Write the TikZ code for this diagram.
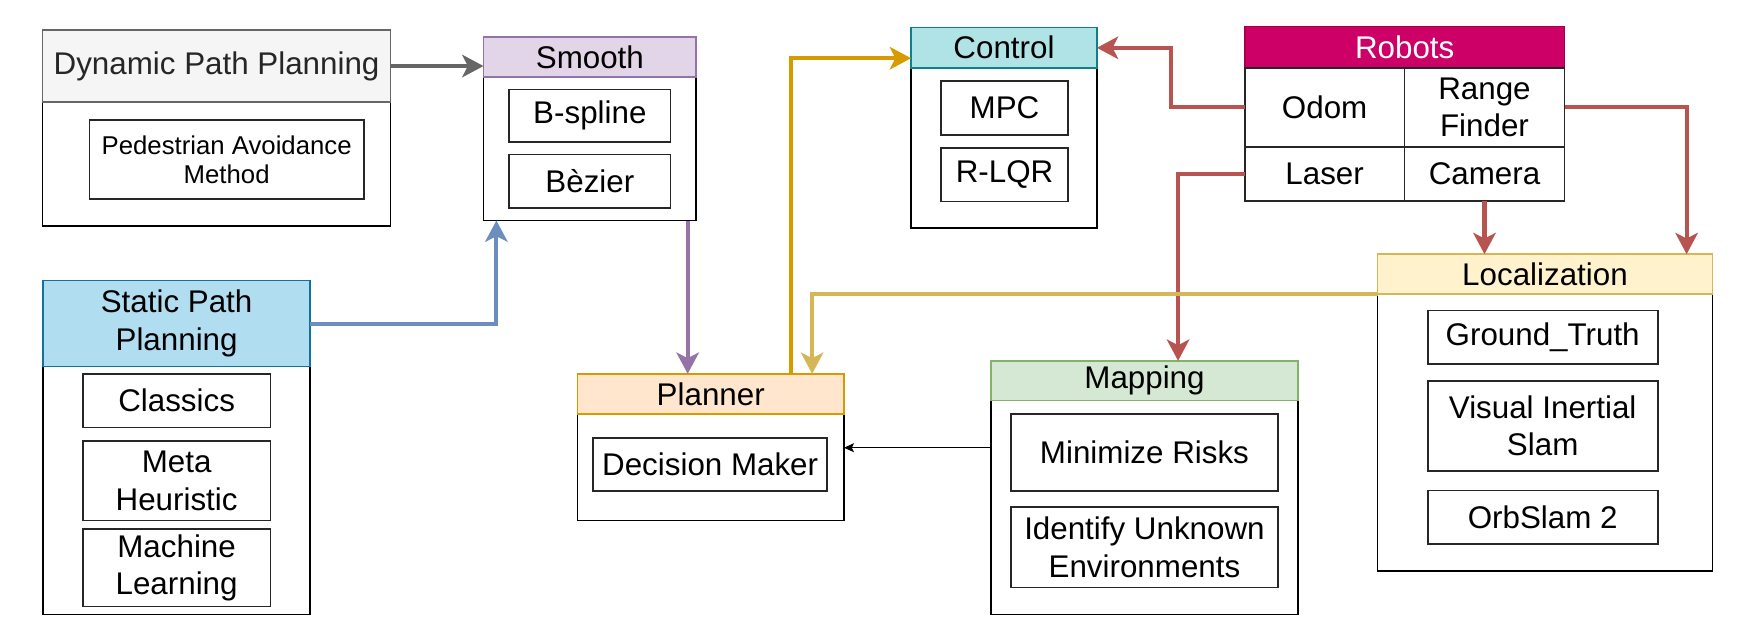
\documentclass[tikz,border=0pt]{standalone}
\usepackage{fontspec}
\setmainfont{Liberation Sans}
\usetikzlibrary{arrows.meta,calc}
\definecolor{dynfill}{HTML}{F5F5F5}\definecolor{dynstroke}{HTML}{666666}
\definecolor{smfill}{HTML}{E1D5E7}\definecolor{smstroke}{HTML}{9673A6}
\definecolor{stfill}{HTML}{B1DDF0}\definecolor{ststroke}{HTML}{10739E}
\definecolor{plfill}{HTML}{FFE6CC}\definecolor{plstroke}{HTML}{D79B00}
\definecolor{ctfill}{HTML}{B0E3E6}\definecolor{ctstroke}{HTML}{0E8088}
\definecolor{rbfill}{HTML}{CC0066}\definecolor{rbstroke}{HTML}{A50040}
\definecolor{locfill}{HTML}{FFF2CC}\definecolor{locstroke}{HTML}{D6B656}
\definecolor{mapfill}{HTML}{D5E8D4}\definecolor{mapstroke}{HTML}{82B366}
\definecolor{agray}{HTML}{666666}\definecolor{ablue}{HTML}{6C8EBF}
\definecolor{apurple}{HTML}{9673A6}\definecolor{aorange}{HTML}{D79B00}
\definecolor{ared}{HTML}{B85450}\definecolor{atan}{HTML}{D6B656}
\newcommand{\mkbox}[7]{\node[#1, minimum width={(#5-#3)*1pt}, minimum height={(#6-#4)*1pt}] (#2) at ({(#3+#5)/2},{(#4+#6)/2}) {#7};}
\tikzset{
  base/.style={inner sep=0pt, outer sep=0pt, align=center, line width=1.4pt},
  body/.style={base, draw=black, fill=white},
  hdr/.style={base, draw=#1},
  inbox/.style={base, draw=black!85, line width=1.6pt, fill=white},
  cell/.style={base, draw=black!85, line width=1.6pt},
  arr/.style={line width=3.6pt, draw=#1, -{Stealth[length=19pt,width=20pt,inset=5pt]}},
  thinarr/.style={line width=1.3pt, draw=black, -{Stealth[length=9pt,width=8pt,inset=2pt]}},
}
\begin{document}
\begin{tikzpicture}[x=1pt,y=-1pt,font=\fontsize{28}{33.6}\selectfont]
\useasboundingbox (0,0) rectangle (1568,571);
% Dynamic Path Planning
\mkbox{body}{dynb}{38}{27}{349}{202}{}
\mkbox{hdr=dynstroke,fill=dynfill,text=black!85}{dynh}{38}{27}{349}{91}{Dynamic Path Planning}
\mkbox{inbox,font=\fontsize{23}{25.3}\selectfont}{ped}{80}{107.5}{325}{178}{Pedestrian Avoidance\\Method}
% Smooth
\mkbox{body}{smb}{432}{33}{622}{197}{}
\mkbox{hdr=smstroke,fill=smfill}{smh}{432}{33}{622}{69}{Smooth}
\mkbox{inbox}{bsp}{455}{80}{599}{127}{B-spline}
\mkbox{inbox}{bez}{455}{138}{599}{186}{Bèzier}
% Static Path Planning
\mkbox{body}{stb}{38.6}{250.6}{277}{549}{}
\mkbox{hdr=ststroke,fill=stfill}{sth}{38.6}{250.6}{277}{327.5}{Static Path\\Planning}
\mkbox{inbox}{cls}{74}{334}{241.6}{382}{Classics}
\mkbox{inbox}{meta}{74}{394}{241.6}{465}{Meta\\Heuristic}
\mkbox{inbox}{ml}{74}{472.7}{241.6}{541.8}{Machine\\Learning}
% Planner
\mkbox{body}{plb}{516}{334}{754}{465}{}
\mkbox{hdr=plstroke,fill=plfill}{plh}{516}{334}{754}{370}{Planner}
\mkbox{inbox}{dec}{530}{391.4}{739}{439}{Decision Maker}
% Control
\mkbox{body}{ctb}{814}{24.4}{980}{203.7}{}
\mkbox{hdr=ctstroke,fill=ctfill}{cth}{814}{24.4}{980}{61}{Control}
\mkbox{inbox}{mpc}{840.7}{72.3}{954.3}{120.6}{MPC}
\mkbox{inbox}{lqr}{840.7}{132.5}{954.3}{180}{R-LQR}
% Robots
\mkbox{hdr=rbstroke,fill=rbfill,text=white}{rbh}{1112.2}{23.8}{1397.8}{60.4}{Robots}
\mkbox{cell,fill=white}{odom}{1112.2}{60.4}{1254.8}{131.3}{Odom}
\mkbox{cell,fill=white}{range}{1254.8}{60.4}{1397.8}{131.3}{Range\\Finder}
\mkbox{cell,fill=white}{laser}{1112.2}{131.3}{1254.8}{179.5}{Laser}
\mkbox{cell,fill=white}{cam}{1254.8}{131.3}{1397.8}{179.5}{Camera}
% Localization
\mkbox{body}{locb}{1230.8}{227.1}{1529.9}{509.9}{}
\mkbox{hdr=locstroke,fill=locfill}{loch}{1230.8}{227.1}{1529.9}{262.8}{Localization}
\mkbox{inbox}{gt}{1275.6}{277.4}{1481}{325.4}{Ground\_Truth}
\mkbox{inbox}{vis}{1275.6}{340.2}{1481}{420.6}{Visual Inertial\\Slam}
\mkbox{inbox}{orb}{1275.6}{438.2}{1481}{486}{OrbSlam 2}
% Mapping
\mkbox{body}{mapb}{885.5}{322.4}{1159.6}{549.2}{}
\mkbox{hdr=mapstroke,fill=mapfill}{maph}{885.5}{322.4}{1159.6}{358}{Mapping}
\mkbox{inbox}{risk}{903.4}{369.7}{1141.6}{438.5}{Minimize Risks}
\mkbox{inbox}{ident}{903.4}{453}{1141.6}{524.8}{Identify Unknown\\Environments}
% connectors
\draw[arr=agray] (dynh.east) -- (dynh.east -| smh.west);
\draw[arr=ablue] (sth.east) -| ($(smb.south west)+(11.5,0)$);
\coordinate (pp) at ($(smb.south east)+(-7.6,0)$);
\draw[arr=apurple] (pp) -- (pp |- plh.north);
\draw[arr=aorange] ($(plh.north west)+(190.6,0)$) |- ($(cth.west)+(0,9.3)$);
\draw[arr=ared] (odom.west) -- ++(-66.2,0) |- (cth.east);
\draw[arr=ared] (laser.west) -| ($(maph.north)+(30,0)$);
\draw[arr=ared] (cam.south) -- (cam.south |- loch.north);
\draw[arr=ared] (range.east) -| ($(loch.north east)+(-23,0)$);
\draw[arr=atan] (loch.south west) -| ($(plh.north west)+(209.6,0)$);
\coordinate (tm) at ($(maph.south west)+(0,42)$);
\draw[thinarr] (tm) -- (tm -| plb.east);
\end{tikzpicture}
\end{document}
